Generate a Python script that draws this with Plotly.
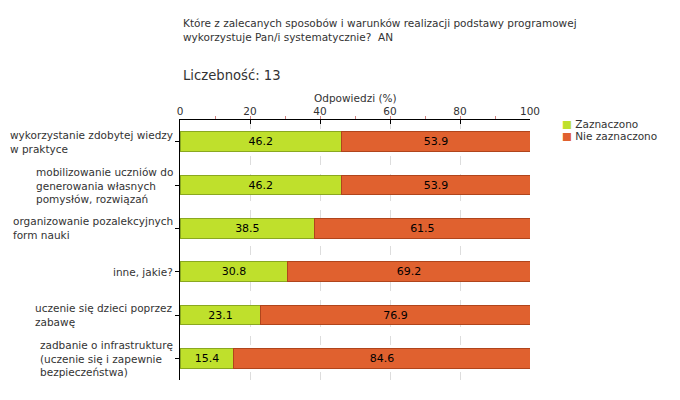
import plotly.graph_objects as go

categories = [
    "wykorzystanie zdobytej wiedzy<br>w praktyce",
    "mobilizowanie uczniów do<br>generowania własnych<br>pomysłów, rozwiązań",
    "organizowanie pozalekcyjnych<br>form nauki",
    "inne, jakie?",
    "uczenie się dzieci poprzez<br>zabawę",
    "zadbanie o infrastrukturę<br>(uczenie się i zapewnie<br>bezpieczeństwa)",
]
zaznaczono = [46.2, 46.2, 38.5, 30.8, 23.1, 15.4]
nie_zaznaczono = [53.9, 53.9, 61.5, 69.2, 76.9, 84.6]
series_names = ["Zaznaczono", "Nie zaznaczono"]
tick_vals = [0, 20, 40, 60, 80, 100]

font = "DejaVu Sans, Verdana, sans-serif"
FS = 10.5
W, H = 680, 400
L, R, T, B = 180, 150, 120, 20
ph = H - T - B
pw = W - L - R
GREEN, GREEN_LINE = "#bfe02c", "#8aa820"
ORANGE, ORANGE_LINE = "#e0612f", "#b0451c"

fig = go.Figure()
for name, vals, col, lcol in [(series_names[0], zaznaczono, GREEN, GREEN_LINE),
                              (series_names[1], nie_zaznaczono, ORANGE, ORANGE_LINE)]:
    fig.add_trace(go.Bar(
        y=categories, x=vals, orientation="h", name=name, showlegend=False,
        marker=dict(color=col, line=dict(color=lcol, width=1)),
        text=[f"{v:.1f}" for v in vals], textposition="inside",
        insidetextanchor="middle", textfont=dict(color="#000", size=11, family=font),
        width=0.46,
    ))

annotations = [
    dict(text="Które z zalecanych sposobów i warunków realizacji podstawy programowej<br>wykorzystuje Pan/i systematycznie?  AN",
         xref="paper", yref="paper", x=(181 - L) / pw, y=1 + (T - 15) / ph,
         xanchor="left", yanchor="top", align="left", showarrow=False,
         font=dict(size=FS, color="#333")),
    dict(text="Liczebność: 13", xref="paper", yref="paper",
         x=(181 - L) / pw, y=1 + (T - 66) / ph, xanchor="left", yanchor="top",
         showarrow=False, font=dict(size=13.2, color="#333")),
    dict(text="Odpowiedzi (%)", xref="paper", yref="paper",
         x=0.5, y=1 + (T - 98) / ph, xanchor="center", yanchor="middle",
         showarrow=False, font=dict(size=FS, color="#333")),
]
# category labels: block right-aligned to axis, lines left-aligned
for c in categories:
    annotations.append(dict(text=c, xref="paper", yref="y", x=0, y=c, xshift=-5,
                            xanchor="right", yanchor="middle", align="left",
                            showarrow=False, font=dict(size=FS, color="#333")))
# legend
for i, (name, col) in enumerate([(series_names[0], GREEN), (series_names[1], ORANGE)]):
    annotations.append(dict(
        text=f'<span style="color:{col}">■</span> {name}', xref="paper", yref="paper",
        x=(560 - L) / pw, y=1 + (T - 124 - 12 * i) / ph, xanchor="left", yanchor="middle",
        showarrow=False, font=dict(size=FS, color="#333")))

fig.update_layout(
    width=W, height=H, barmode="stack", showlegend=False,
    margin=dict(l=L, r=R, t=T, b=B, autoexpand=False),
    paper_bgcolor="white", plot_bgcolor="white",
    font=dict(family=font, size=FS, color="#333"),
    uniformtext=dict(mode="show", minsize=8),
    xaxis=dict(
        side="top", range=[0, 100], tickvals=tick_vals,
        ticks="inside", ticklen=4, tickcolor="#000",
        showline=True, linecolor="#000", linewidth=1,
        showgrid=True, gridcolor="#dddddd", griddash="dash", gridwidth=1,
        zeroline=False, tickfont=dict(size=FS, color="#333"),
        minor=dict(dtick=10, ticks="outside", ticklen=3, tickcolor="#d08080", showgrid=False),
        fixedrange=True,
    ),
    yaxis=dict(
        autorange="reversed", showline=True, linecolor="#000", linewidth=1,
        ticks="outside", ticklen=4, tickcolor="#000", showgrid=False,
        showticklabels=False,
    ),
    annotations=annotations,
)

fig.write_html("out.html")
